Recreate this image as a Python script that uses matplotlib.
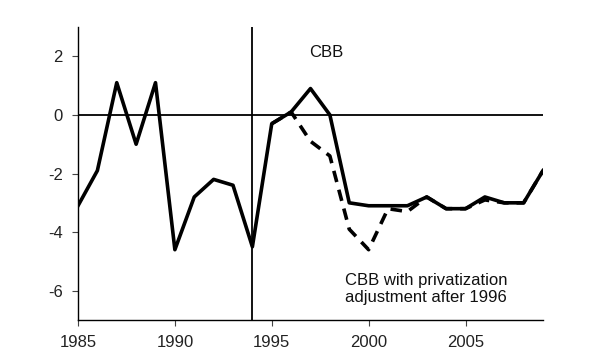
import matplotlib
matplotlib.use("Agg")
import matplotlib.pyplot as plt

plt.rcParams['font.family'] = ['Liberation Sans', 'DejaVu Sans']
plt.rcParams['axes.unicode_minus'] = False

years = list(range(1985, 2010))
cbb = [-3.1, -1.9, 1.1, -1.0, 1.1, -4.6, -2.8, -2.2, -2.4, -4.5,
       -0.3, 0.1, 0.9, 0.0, -3.0, -3.1, -3.1, -3.1, -2.8, -3.2,
       -3.2, -2.8, -3.0, -3.0, -1.9]
adj_years = list(range(1995, 2010))
cbb_adj = [-0.3, 0.1, -0.9, -1.4, -3.9, -4.6, -3.2, -3.3, -2.8, -3.2,
           -3.2, -2.9, -3.0, -3.0, -1.9]
xticks = [1985, 1990, 1995, 2000, 2005]
yticks = [2, 0, -2, -4, -6]

fig = plt.figure(figsize=(6, 3.6), dpi=100)
ax = fig.add_axes([0.13, 0.111, 0.775, 0.814])

ax.axhline(0, color='black', lw=1.3, zorder=1)
ax.axvline(1994, color='black', lw=1.3, zorder=1)
ax.plot(adj_years, cbb_adj, color='black', lw=2.6, ls=(0, (3.2, 2.2)), zorder=2)
ax.plot(years, cbb, color='black', lw=2.6, zorder=3)

ax.set_xlim(1985, 2009)
ax.set_ylim(-7, 3)
ax.set_xticks(xticks)
ax.set_yticks(yticks)
for s in ['top', 'right']:
    ax.spines[s].set_visible(False)
for s in ['left', 'bottom']:
    ax.spines[s].set_linewidth(1.0)
ax.tick_params(direction='out', length=4, width=0.8, labelsize=12,
               labelcolor='#222222', color='#444444', pad=7)

ax.text(1997.8, 2.13, 'CBB', fontsize=12, ha='center', va='center', color='#111111')
ax.text(1998.8, -5.95, 'CBB with privatization\nadjustment after 1996', fontsize=12,
        ha='left', va='center', color='#111111', linespacing=1.2)

fig.savefig('out.png', dpi=100)
